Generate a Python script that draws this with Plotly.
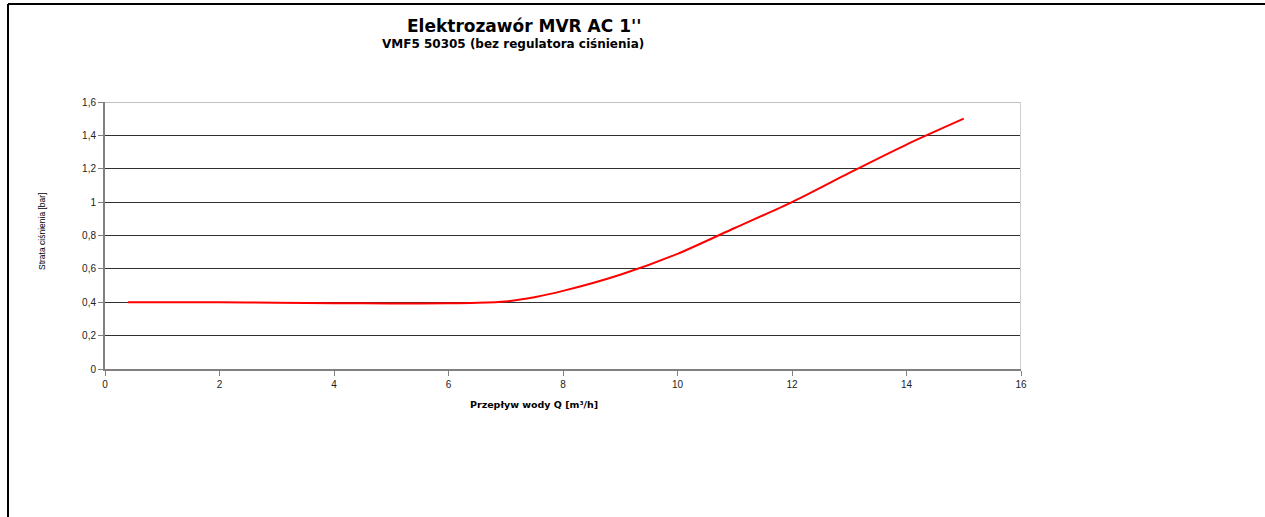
import plotly.graph_objects as go

flow_q = [0.4, 2, 3, 4, 5, 6, 6.5, 7, 7.5, 8, 9, 10, 11, 12, 13, 14, 15]
pressure_loss = [0.4, 0.4, 0.397, 0.394, 0.393, 0.394, 0.397, 0.405, 0.43, 0.468,
                 0.565, 0.69, 0.845, 1.0, 1.175, 1.345, 1.5]

x_ticks = [0, 2, 4, 6, 8, 10, 12, 14, 16]
y_ticks = [0, 0.2, 0.4, 0.6, 0.8, 1.0, 1.2, 1.4, 1.6]

title_text = "Elektrozawór MVR AC 1''"
subtitle_text = "VMF5 50305 (bez regulatora ciśnienia)"
x_title = "Przepływ wody Q [m³/h]"
y_title = "Strata ciśnienia [bar]"

L, R, T, B = 105, 1021, 102, 369
W, H = R - L, B - T


def px_x(px):
    return (px - L) / W


def px_y(py):
    return (B - py) / H


fig = go.Figure()
fig.add_trace(go.Scatter(
    x=flow_q, y=pressure_loss, mode="lines",
    line=dict(color="#ff0000", width=2, shape="spline", smoothing=0.7),
    showlegend=False, hoverinfo="x+y"))

font = "Liberation Sans, Arial, sans-serif"
wide = "DejaVu Sans, Arial, sans-serif"
fig.update_layout(
    width=1265, height=517,
    margin=dict(l=L, r=1265 - R, t=T, b=517 - B),
    paper_bgcolor="white", plot_bgcolor="white",
    separators=", ",
    font=dict(family=font, size=10, color="#000000"),
    xaxis=dict(range=[0, 16], tickvals=x_ticks, showgrid=False, zeroline=False,
               showline=True, linecolor="#808080", linewidth=2,
               ticks="outside", ticklen=5, tickcolor="#808080", tickwidth=1,
               tickfont=dict(size=10, color="#222")),
    yaxis=dict(range=[0, 1.6], tickvals=y_ticks, showgrid=True, gridcolor="#303030",
               gridwidth=1, zeroline=False,
               showline=True, linecolor="#808080", linewidth=2,
               ticks="outside", ticklen=5, tickcolor="#808080", tickwidth=1,
               tickfont=dict(size=10, color="#222")),
    annotations=[
        dict(text="<b>" + title_text + "</b>", xref="paper", yref="paper",
             x=px_x(524), y=px_y(26), xanchor="center", yanchor="middle",
             showarrow=False, font=dict(size=17, family=wide)),
        dict(text="<b>" + subtitle_text + "</b>", xref="paper", yref="paper",
             x=px_x(513), y=px_y(44), xanchor="center", yanchor="middle",
             showarrow=False, font=dict(size=12, family=wide)),
        dict(text="<b>" + x_title + "</b>", xref="paper", yref="paper",
             x=px_x(534), y=px_y(405), xanchor="center", yanchor="middle",
             showarrow=False, font=dict(size=9.5, family=wide)),
        dict(text=y_title, xref="paper", yref="paper", textangle=-90,
             x=px_x(42), y=px_y(232), xanchor="center", yanchor="middle",
             showarrow=False, font=dict(size=8.5, family="Liberation Sans Narrow, " + font)),
    ],
)

# plot area light border (top, right)
fig.add_shape(type="line", xref="x", yref="y", x0=0, x1=16, y0=1.6, y1=1.6,
              line=dict(color="#c0c0c0", width=2))
fig.add_shape(type="line", xref="x", yref="y", x0=16, x1=16, y0=0, y1=1.6,
              line=dict(color="#d0d0d0", width=2))
# outer frame lines (top and left)
fig.add_shape(type="line", xref="paper", yref="paper", x0=px_x(8), x1=px_x(1265),
              y0=px_y(4), y1=px_y(4), line=dict(color="#000000", width=2))
fig.add_shape(type="line", xref="paper", yref="paper", x0=px_x(8), x1=px_x(8),
              y0=px_y(4), y1=px_y(517), line=dict(color="#000000", width=2))

fig.write_html("out.html")
